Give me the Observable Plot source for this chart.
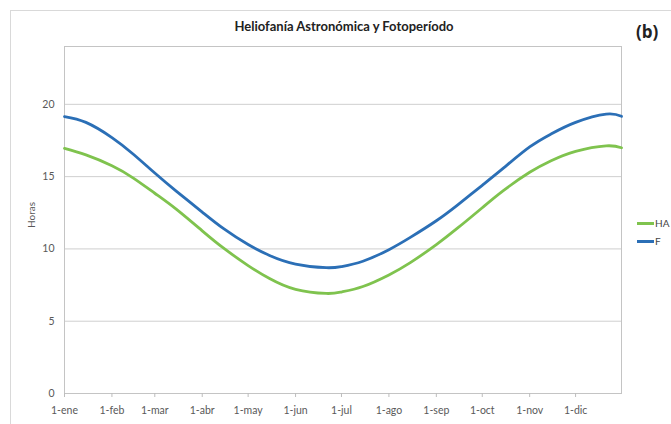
<!DOCTYPE html>
<html>
<head>
<meta charset="utf-8">
<script src="https://cdn.jsdelivr.net/npm/d3@7"></script>
<script src="https://cdn.jsdelivr.net/npm/@observablehq/plot@0.6"></script>
<style>
  html, body { margin: 0; padding: 0; background: #fff; }
  #wrap { position: relative; width: 671px; height: 424px; overflow: hidden; font-family: Lato, "Open Sans", sans-serif; }
  #border { position: absolute; left: 10px; top: 10px; width: 700px; height: 440px; border-top: 1px solid #d9d9d9; border-left: 1px solid #d9d9d9; }
  #title { position: absolute; left: 0; width: 688px; top: 18px; text-align: center; font-weight: bold; font-size: 13px; color: #222; }
  #tag { position: absolute; left: 636px; top: 20px; font-weight: bold; font-size: 17px; color: #222; font-family: "Open Sans", sans-serif; }
  #chart { position: absolute; left: 0; top: 0; }
  .leg { position: absolute; left: 637px; font-size: 10px; color: #444; display: flex; align-items: center; }
  .leg span.sw { display: inline-block; width: 17px; height: 3px; margin-right: 1px; }
</style>
</head>
<body>
<div id="wrap">
  <div id="border"></div>
  <div id="chart"></div>
  <div id="title">Heliofanía Astronómica y Fotoperíodo</div>
  <div id="tag">(b)</div>
  <div class="leg" style="top:217px"><span class="sw" style="background:#7fc34e"></span>HA</div>
  <div class="leg" style="top:235px"><span class="sw" style="background:#2b6fb6"></span>F</div>
</div>
<script>
// Tick labels (month starts)
const monthLabels = ["1-ene","1-feb","1-mar","1-abr","1-may","1-jun","1-jul","1-ago","1-sep","1-oct","1-nov","1-dic"];
const monthStarts = ["2013-01-01","2013-02-01","2013-03-01","2013-04-01","2013-05-01","2013-06-01","2013-07-01","2013-08-01","2013-09-01","2013-10-01","2013-11-01","2013-12-01"];
// Sample dates
const sampleDates = ["2013-01-01","2013-01-15","2013-02-01","2013-02-15","2013-03-01","2013-03-15","2013-04-01","2013-04-15","2013-05-01","2013-05-15","2013-06-01","2013-06-21","2013-07-01","2013-07-15","2013-08-01","2013-08-15","2013-09-01","2013-09-15","2013-10-01","2013-10-15","2013-11-01","2013-11-15","2013-12-01","2013-12-21","2013-12-31"];
// HA: Heliofanía astronómica (horas)
const haValues = [16.95,16.5,15.75,14.9,13.85,12.75,11.25,10.05,8.85,7.95,7.2,6.92,7.02,7.4,8.2,9.05,10.3,11.45,12.85,14.05,15.3,16.1,16.75,17.13,17.0];
// F: Fotoperíodo (horas)
const fValues = [19.15,18.75,17.7,16.55,15.25,14.0,12.55,11.4,10.3,9.55,8.95,8.7,8.78,9.15,9.95,10.8,11.95,13.05,14.4,15.6,17.05,17.95,18.75,19.32,19.17];
const yTicks = [0,5,10,15,20];

const parse = s => new Date(s + "T00:00:00Z");
const rows = [];
sampleDates.forEach((d, i) => {
  rows.push({date: parse(d), value: haValues[i], serie: "HA"});
  rows.push({date: parse(d), value: fValues[i], serie: "F"});
});
const tickDates = monthStarts.map(parse);

const chart = Plot.plot({
  width: 671,
  height: 424,
  marginLeft: 64,
  marginRight: 50,
  marginTop: 46,
  marginBottom: 31,
  style: {fontFamily: "Lato, 'Open Sans', sans-serif", fontSize: "10px", color: "#595959", background: "transparent"},
  x: {type: "utc", domain: [parse("2013-01-01"), parse("2013-12-31")]},
  y: {domain: [0, 24]},
  color: {domain: ["HA","F"], range: ["#7fc34e","#2b6fb6"]},
  marks: [
    Plot.gridY([5,10,15,20], {stroke: "#cfcfcf", strokeOpacity: 1}),
    Plot.frame({stroke: "#c4c4c4"}),
    Plot.axisY(yTicks, {tickSize: 0, tickPadding: 10, label: null, fill: "#595959", fontSize: 10.5}),
    Plot.axisX(tickDates, {tickSize: 4, tickPadding: 9, stroke: "#bdbdbd", fill: "#595959", fontSize: 10.5, label: null, tickFormat: (d) => monthLabels[tickDates.findIndex(t => +t === +d)]}),
    Plot.text(["Horas"], {frameAnchor: "left", dx: -33, dy: 8, rotate: -90, fill: "#595959", fontSize: 10}),
    Plot.line(rows, {x: "date", y: "value", stroke: "serie", z: "serie", strokeWidth: 2.8, curve: "natural"})
  ]
});
document.getElementById("chart").appendChild(chart);
</script>
</body>
</html>
